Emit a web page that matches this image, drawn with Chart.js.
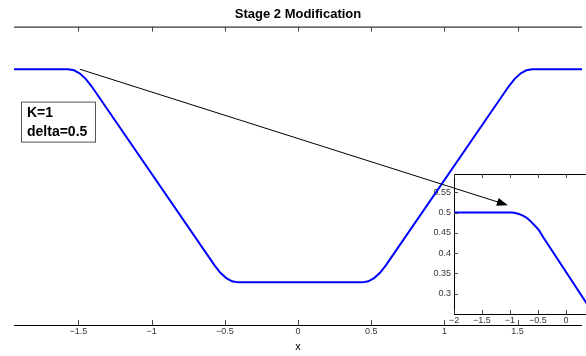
<!DOCTYPE html>
<html>
<head>
<meta charset="utf-8">
<script src="https://cdn.jsdelivr.net/npm/chart.js@4.4.0/dist/chart.umd.min.js"></script>
<style>
    html, body { margin: 0; padding: 0; background: #fff; }
    #contenedor { position: relative; width: 586px; height: 356px; overflow: hidden; }
    #inset { position: absolute; left: 404px; top: 160px; z-index: 1; }
    #principal { position: absolute; left: 0; top: 0; z-index: 2; }
</style>
</head>
<body>
<div id="contenedor">
    <canvas id="inset" width="200" height="168"></canvas>
    <canvas id="principal" width="582" height="356"></canvas>
</div>
<script>
// Curva principal
const xPrincipal = [-1.94, -1.57, -1.53, -1.49, -1.45, -1.41,
    -0.57, -0.53, -0.49, -0.45, -0.41,
    0.44, 0.48, 0.52, 0.56, 0.60,
    1.44, 1.48, 1.52, 1.56, 1.60, 1.94];
const yPrincipal = [0.5, 0.5, 0.495, 0.48, 0.455, 0.42,
    -0.42, -0.455, -0.48, -0.495, -0.5,
    -0.5, -0.495, -0.48, -0.455, -0.42,
    0.42, 0.455, 0.48, 0.495, 0.5, 0.5];
const ticksX = [-1.5, -1, -0.5, 0, 0.5, 1, 1.5];

// Curva del recuadro ampliado
const xInset = [-2, -0.97, -0.9, -0.83, -0.76, -0.69, -0.62, -0.55, -0.48, -0.42, 0.68];
const yInset = [0.5, 0.5, 0.499, 0.496, 0.492, 0.486, 0.477, 0.467, 0.456, 0.442, 0.211];
const ticksXInset = [-2, -1.5, -1, -0.5, 0];
const ticksYInset = [0.3, 0.35, 0.4, 0.45, 0.5, 0.55];

// Anotaciones
const textoCuadro = ['K=1', 'delta=0.5'];
const flechaDesde = [-1.49, 0.5];
const flechaHasta = [1.434, -0.138];

const fuente = "'Liberation Sans', Arial, Helvetica, sans-serif";

function formato(v) {
    return v < 0 ? '\u2212' + Math.abs(v) : String(v);
}

function puntos(xs, ys) {
    return xs.map((x, i) => ({ x: x, y: ys[i] }));
}

// Linea superior, marcas hacia dentro, cuadro de texto y flecha
const marcoPrincipal = {
    id: 'marcoPrincipal',
    afterDraw(chart) {
        const { ctx, chartArea: a, scales: { x, y } } = chart;
        ctx.save();
        ctx.strokeStyle = '#000';
        ctx.lineWidth = 1;
        ctx.beginPath();
        ctx.moveTo(a.left, a.top + 0.5);
        ctx.lineTo(a.right, a.top + 0.5);
        ctx.stroke();

        ctx.strokeStyle = '#444';
        ticksX.forEach(v => {
            const px = Math.round(x.getPixelForValue(v)) + 0.5;
            ctx.beginPath();
            ctx.moveTo(px, a.bottom);
            ctx.lineTo(px, a.bottom - 5);
            ctx.moveTo(px, a.top);
            ctx.lineTo(px, a.top + 5);
            ctx.stroke();
        });

        // cuadro de texto
        ctx.fillStyle = '#fff';
        ctx.strokeStyle = '#555';
        ctx.fillRect(a.left + 7.5, a.top + 75.5, 74, 40);
        ctx.strokeRect(a.left + 7.5, a.top + 75.5, 74, 40);
        ctx.fillStyle = '#000';
        ctx.font = 'bold 14px ' + fuente;
        ctx.textBaseline = 'alphabetic';
        ctx.fillText(textoCuadro[0], a.left + 13, a.top + 90);
        ctx.fillText(textoCuadro[1], a.left + 13, a.top + 109);

        // flecha
        const x0 = x.getPixelForValue(flechaDesde[0]), y0 = y.getPixelForValue(flechaDesde[1]);
        const x1 = x.getPixelForValue(flechaHasta[0]), y1 = y.getPixelForValue(flechaHasta[1]);
        const ang = Math.atan2(y1 - y0, x1 - x0);
        ctx.strokeStyle = '#000';
        ctx.beginPath();
        ctx.moveTo(x0, y0);
        ctx.lineTo(x1 - 8 * Math.cos(ang), y1 - 8 * Math.sin(ang));
        ctx.stroke();
        ctx.beginPath();
        ctx.moveTo(x1, y1);
        ctx.lineTo(x1 - 11 * Math.cos(ang) + 4 * Math.sin(ang), y1 - 11 * Math.sin(ang) - 4 * Math.cos(ang));
        ctx.lineTo(x1 - 11 * Math.cos(ang) - 4 * Math.sin(ang), y1 - 11 * Math.sin(ang) + 4 * Math.cos(ang));
        ctx.closePath();
        ctx.fill();
        ctx.restore();
    }
};

// Fondo blanco, caja y marcas del recuadro
const marcoInset = {
    id: 'marcoInset',
    beforeDraw(chart) {
        const { ctx, chartArea: a } = chart;
        ctx.save();
        ctx.fillStyle = '#fff';
        ctx.fillRect(a.left, a.top, a.right - a.left, a.bottom - a.top);
        ctx.restore();
    },
    afterDraw(chart) {
        const { ctx, chartArea: a, scales: { x, y } } = chart;
        ctx.save();
        ctx.strokeStyle = '#000';
        ctx.lineWidth = 1;
        ctx.beginPath();
        ctx.moveTo(a.left, a.top + 0.5);
        ctx.lineTo(a.right, a.top + 0.5);
        ctx.stroke();
        ctx.strokeStyle = '#444';
        ticksXInset.forEach(v => {
            const px = Math.round(x.getPixelForValue(v)) + 0.5;
            ctx.beginPath();
            ctx.moveTo(px, a.bottom);
            ctx.lineTo(px, a.bottom - 4);
            ctx.moveTo(px, a.top);
            ctx.lineTo(px, a.top + 4);
            ctx.stroke();
        });
        ticksYInset.forEach(v => {
            const py = Math.round(y.getPixelForValue(v)) + 0.5;
            ctx.beginPath();
            ctx.moveTo(a.left, py);
            ctx.lineTo(a.left + 4, py);
            ctx.stroke();
        });
        ctx.restore();
    }
};

new Chart(document.getElementById('inset').getContext('2d'), {
    type: 'line',
    data: {
        datasets: [{
            data: puntos(xInset, yInset),
            borderColor: '#0000ff',
            borderWidth: 2,
            pointRadius: 0,
            tension: 0
        }]
    },
    options: {
        responsive: false,
        animation: false,
        layout: { padding: { top: 14, left: 0, right: 0, bottom: 0 } },
        plugins: { legend: { display: false }, tooltip: { enabled: false } },
        scales: {
            x: {
                type: 'linear', min: -2, max: 0.68,
                afterBuildTicks: s => { s.ticks = ticksXInset.map(v => ({ value: v })); },
                afterFit: s => { s.height = 14; },
                ticks: { callback: v => formato(v), font: { family: fuente, size: 9 }, color: '#333', padding: 1, maxRotation: 0, autoSkip: false },
                grid: { display: false, drawTicks: false },
                border: { display: true, color: '#000', width: 1 }
            },
            y: {
                type: 'linear', min: 0.25, max: 0.595,
                afterBuildTicks: s => { s.ticks = ticksYInset.map(v => ({ value: v })); },
                afterFit: s => { s.width = 50; },
                ticks: { callback: v => formato(v), font: { family: fuente, size: 9 }, color: '#333', padding: 3 },
                grid: { display: false, drawTicks: false },
                border: { display: true, color: '#000', width: 1 }
            }
        }
    },
    plugins: [marcoInset]
});

new Chart(document.getElementById('principal').getContext('2d'), {
    type: 'line',
    data: {
        datasets: [{
            data: puntos(xPrincipal, yPrincipal),
            borderColor: '#0000ff',
            borderWidth: 2,
            pointRadius: 0,
            tension: 0
        }]
    },
    options: {
        responsive: false,
        animation: false,
        layout: { padding: { top: 0, left: 14, right: 0, bottom: 0 } },
        plugins: {
            legend: { display: false },
            tooltip: { enabled: false },
            title: {
                display: true,
                text: 'Stage 2 Modification',
                color: '#000',
                font: { family: fuente, size: 13, weight: 'bold' },
                padding: { top: 7, bottom: 4 }
            }
        },
        scales: {
            x: {
                type: 'linear', min: -1.94, max: 1.94,
                afterBuildTicks: s => { s.ticks = ticksX.map(v => ({ value: v })); },
                ticks: { callback: v => formato(v), font: { family: fuente, size: 9 }, color: '#333', padding: 1, maxRotation: 0, autoSkip: false },
                grid: { display: false, drawTicks: false },
                border: { display: true, color: '#000', width: 1 },
                title: { display: true, text: 'x', color: '#000', font: { family: fuente, size: 11 }, padding: { top: 2.6, bottom: 2.4 } }
            },
            y: {
                type: 'linear', min: -0.7, max: 0.7,
                display: false
            }
        }
    },
    plugins: [marcoPrincipal]
});
</script>
</body>
</html>
